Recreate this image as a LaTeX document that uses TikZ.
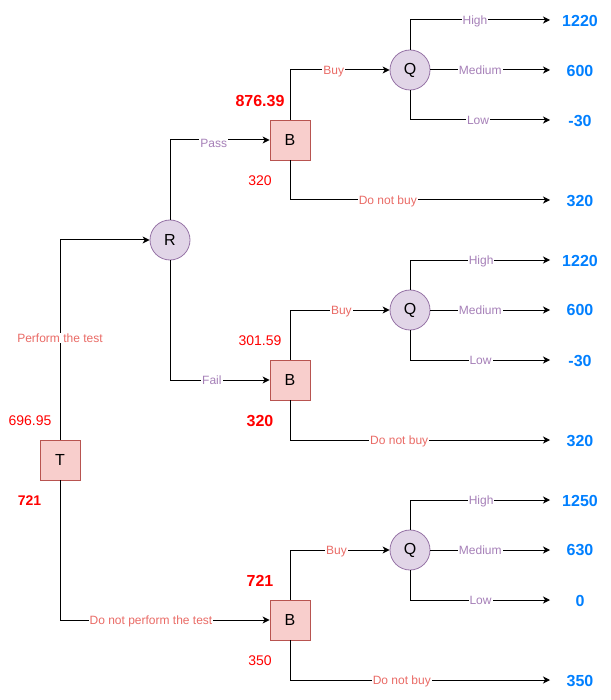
\documentclass[tikz,border=0pt]{standalone}
\usepackage{fontspec}
\setmainfont{Liberation Sans}
\usetikzlibrary{arrows.meta}
\definecolor{boxfill}{HTML}{F8CECC}
\definecolor{boxdraw}{HTML}{B85450}
\definecolor{cfill}{HTML}{E1D5E7}
\definecolor{cdraw}{HTML}{9673A6}
\definecolor{lblred}{HTML}{EA6B66}
\definecolor{lblpurple}{HTML}{A680B8}
\definecolor{valred}{HTML}{FF0000}
\definecolor{valblue}{HTML}{007FFF}
\begin{document}
\begin{tikzpicture}[x=1pt,y=-1pt,
 decision/.style={rectangle, draw=boxdraw, fill=boxfill, line width=0.8pt, minimum size=40pt, inner sep=0pt, font=\fontsize{16}{18}\selectfont},
 chance/.style={circle, draw=cdraw, fill=cfill, line width=0.8pt, minimum size=40pt, inner sep=0pt, font=\fontsize{16}{18}\selectfont},
 conn/.style={draw=black, line width=1pt, -{Stealth[length=7pt,width=7pt,inset=2pt]}},
 lblbase/.style={fill=white, inner sep=1pt, text height=8.6pt, text depth=0pt, font=\fontsize{12}{14}\selectfont},
 lblr/.style={lblbase, text=lblred},
 lblp/.style={lblbase, text=lblpurple},
 val/.style={text=valblue, inner sep=0pt, font=\bfseries\fontsize{16}{18}\selectfont},
 ev/.style={text=valred, inner sep=0pt, font=\fontsize{14}{16}\selectfont},
 evb/.style={text=valred, inner sep=0pt, font=\bfseries\fontsize{16}{18}\selectfont},
 evbs/.style={text=valred, inner sep=0pt, font=\bfseries\fontsize{14}{16}\selectfont}
]
\useasboundingbox (0,0) rectangle (610,700);

% main nodes
\node[decision] (T) at (60,460) {T};
\node[chance] (R) at (170,240) {R};
\node[decision] (B1) at (290,140) {B};
\node[decision] (B2) at (290,380) {B};
\node[decision] (B3) at (290,620) {B};
\node[chance] (Q1) at (410,70) {Q};
\node[chance] (Q2) at (410,310) {Q};
\node[chance] (Q3) at (410,550) {Q};

% leaf end points
\coordinate (e1h) at (550,20);
\coordinate (e1m) at (550,70);
\coordinate (e1l) at (550,120);
\coordinate (e1n) at (550,200);
\coordinate (e2h) at (550,260);
\coordinate (e2m) at (550,310);
\coordinate (e2l) at (550,360);
\coordinate (e2n) at (550,440);
\coordinate (e3h) at (550,500);
\coordinate (e3m) at (550,550);
\coordinate (e3l) at (550,600);
\coordinate (e3n) at (550,680);

% connectors
\draw[conn] (T.north) |- node[lblr,pos=0.255]{Perform the test} (R.west);
\draw[conn] (T.south) |- node[lblr,pos=0.717]{Do not perform the test} (B3.west);
\draw[conn] (R.north) |- node[lblp,pos=0.72,yshift=-3pt]{Pass} (B1.west);
\draw[conn] (R.south) |- node[lblp,pos=0.71]{Fail} (B2.west);

\draw[conn] (B1.north) |- node[lblr,pos=0.72]{Buy} (Q1.west);
\draw[conn] (B1.south) |- node[lblr,pos=0.688]{Do not buy} (e1n);
\draw[conn] (B2.north) |- node[lblr,pos=0.758]{Buy} (Q2.west);
\draw[conn] (B2.south) |- node[lblr,pos=0.71]{Do not buy} (e2n);
\draw[conn] (B3.north) |- node[lblr,pos=0.733]{Buy} (Q3.west);
\draw[conn] (B3.south) |- node[lblr,pos=0.715]{Do not buy} (e3n);

\draw[conn] (Q1.north) |- node[lblp,pos=0.732]{High} (e1h);
\draw[conn] (Q1.east) -- node[lblp,pos=0.417]{Medium} (e1m);
\draw[conn] (Q1.south) |- node[lblp,pos=0.743]{Low} (e1l);
\draw[conn] (Q2.north) |- node[lblp,pos=0.754]{High} (e2h);
\draw[conn] (Q2.east) -- node[lblp,pos=0.417]{Medium} (e2m);
\draw[conn] (Q2.south) |- node[lblp,pos=0.752]{Low} (e2l);
\draw[conn] (Q3.north) |- node[lblp,pos=0.754]{High} (e3h);
\draw[conn] (Q3.east) -- node[lblp,pos=0.417]{Medium} (e3m);
\draw[conn] (Q3.south) |- node[lblp,pos=0.752]{Low} (e3l);

% payoffs
\node[val] (v1h) at (580,21) {1220};
\node[val] (v1m) at (580,71) {600};
\node[val] (v1l) at (580,121) {-30};
\node[val] (v1n) at (580,201) {320};
\node[val] (v2h) at (580,261) {1220};
\node[val] (v2m) at (580,310) {600};
\node[val] (v2l) at (580,361) {-30};
\node[val] (v2n) at (580,441) {320};
\node[val] (v3h) at (580,501) {1250};
\node[val] (v3m) at (580,550) {630};
\node[val] (v3l) at (580,601) {0};
\node[val] (v3n) at (580,681) {350};

% expected values
\node[evb] (a1) at (260,101) {876.39};
\node[ev] (a2) at (260,181) {320};
\node[ev] (a3) at (260,341) {301.59};
\node[evb] (a4) at (260,421) {320};
\node[ev] (a5) at (30,421) {696.95};
\node[evbs] (a6) at (29.5,501) {721};
\node[evb] (a7) at (260,581) {721};
\node[ev] (a8) at (260,661) {350};
\end{tikzpicture}
\end{document}
